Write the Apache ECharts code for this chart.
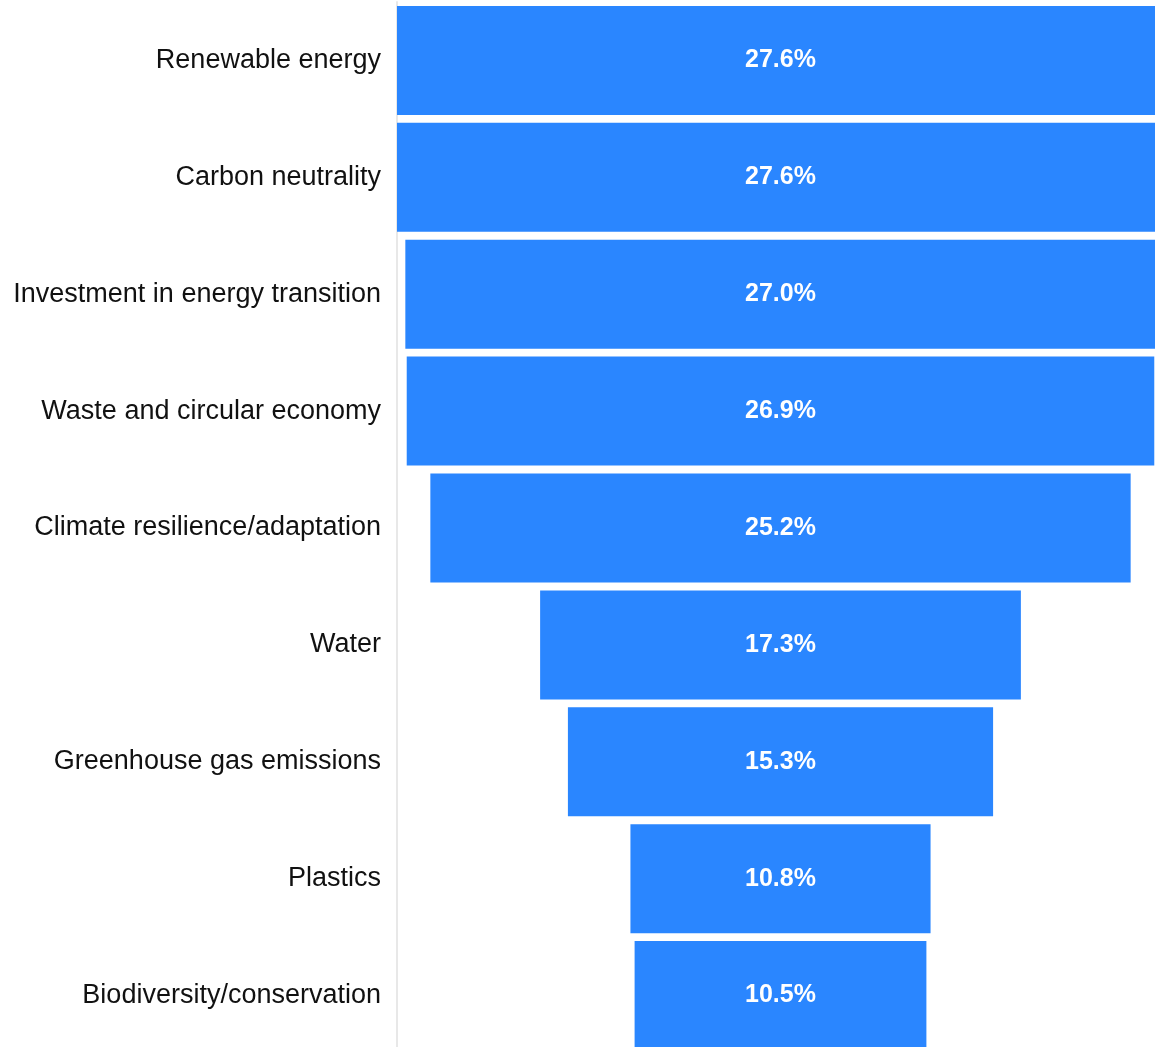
<!DOCTYPE html>
<html>
<head>
<meta charset="utf-8">
<script src="https://cdn.jsdelivr.net/npm/echarts@6/dist/echarts.min.js"></script>
<style>
  html, body { margin: 0; padding: 0; background: #fff; overflow: hidden; }
  /* the chart is a little larger than the window: the widest bars and the
     last bar run past the picture's edges */
  #chart { width: 1164px; height: 1054px; }
</style>
</head>
<body>
<div id="chart"></div>
<script>
const categories = [
  "Renewable energy",
  "Carbon neutrality",
  "Investment in energy transition",
  "Waste and circular economy",
  "Climate resilience/adaptation",
  "Water",
  "Greenhouse gas emissions",
  "Plastics",
  "Biodiversity/conservation"
];
const values = [27.6, 27.6, 27.0, 26.9, 25.2, 17.3, 15.3, 10.8, 10.5];

const maxValue = Math.max(...values);
// invisible spacer so every bar is centred like a funnel
const spacer = values.map((v) => (maxValue - v) / 2);

const chart = echarts.init(document.getElementById("chart"));
chart.setOption({
  animation: false,
  grid: { left: 397, right: 0, top: 2, bottom: 0 },
  xAxis: {
    type: "value",
    min: 0,
    max: maxValue,
    show: false
  },
  yAxis: {
    type: "category",
    inverse: true,
    data: categories,
    axisLine: { show: true, lineStyle: { color: "#e8e8e8", width: 2 } },
    axisTick: { show: false },
    axisLabel: {
      color: "#111",
      fontFamily: "Liberation Sans, Arial, sans-serif",
      fontSize: 27,
      margin: 16,
      padding: [9, 0, 0, 0]
    }
  },
  series: [
    {
      type: "bar",
      stack: "funnel",
      data: spacer,
      itemStyle: { color: "transparent" },
      silent: true,
      barWidth: 109
    },
    {
      type: "bar",
      stack: "funnel",
      data: values,
      barWidth: 109,
      itemStyle: { color: "#2a86ff" },
      label: {
        show: true,
        position: "inside",
        color: "#fff",
        fontWeight: "bold",
        fontFamily: "Liberation Sans, Arial, sans-serif",
        fontSize: 25,
        padding: [6, 0, 0, 0],
        formatter: (p) => p.value.toFixed(1) + "%"
      }
    }
  ]
});
</script>
</body>
</html>
